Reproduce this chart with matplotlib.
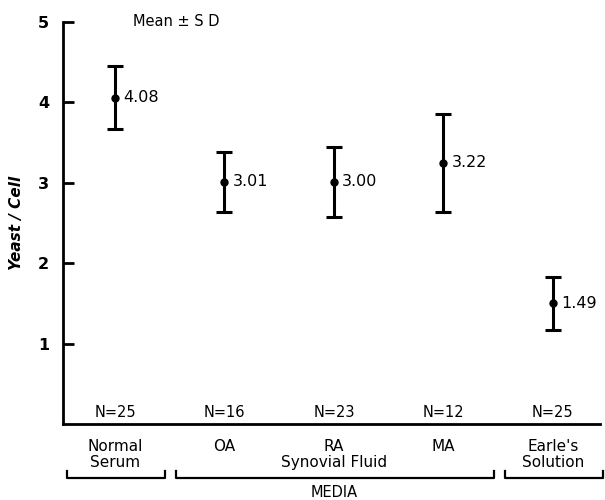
import matplotlib
matplotlib.use('Agg')
import matplotlib.pyplot as plt
import matplotlib.transforms as mtransforms

# Data
media = ['Normal\nSerum', 'OA', 'RA', 'MA', "Earle's\nSolution"]
means = [4.08, 3.01, 3.00, 3.22, 1.49]
plot_means = [4.06, 3.01, 3.01, 3.25, 1.50]
sd = [0.39, 0.37, 0.43, 0.61, 0.33]
n_counts = [25, 16, 23, 12, 25]
groups = [('', 0, 0), ('Synovial Fluid', 1, 3), ('', 4, 4)]

plt.rcParams['font.family'] = ['DejaVu Sans']

fig = plt.figure(figsize=(6.05, 5.0), dpi=100)
ax = fig.add_axes([63 / 605, 1 - 424 / 500, 537 / 605, 402 / 500])

xs = list(range(len(media)))
ax.errorbar(xs, plot_means, yerr=sd, fmt='o', color='black', ms=5,
            elinewidth=2.2, capsize=6, capthick=2.2)

# Value labels next to each mean
for x, y, m in zip(xs, plot_means, means):
    ax.annotate(f'{m:.2f}', (x, y), xytext=(6, 0), textcoords='offset points',
                va='center', ha='left', fontsize=11.5)

ax.set_xlim(-0.475, 4.43)
ax.set_ylim(0, 5)
ax.set_yticks([1, 2, 3, 4, 5])
ax.tick_params(axis='y', direction='in', length=8, width=2, labelsize=11.5, pad=10)
for lbl in ax.get_yticklabels():
    lbl.set_fontweight('bold')
ax.set_xticks([])
for side in ['top', 'right']:
    ax.spines[side].set_visible(False)
ax.spines['left'].set_linewidth(2)
ax.spines['bottom'].set_linewidth(2)

ax.set_ylabel('Yeast / Cell', fontsize=11, fontstyle='italic', fontweight='bold',
              labelpad=10)

ax.text(0.13, 1.0, 'Mean ± S D', transform=ax.transAxes, fontsize=10.5,
        va='center', ha='left')

trans = mtransforms.blended_transform_factory(ax.transData, ax.transAxes)

# N counts just above the axis
for x, n in zip(xs, n_counts):
    ax.text(x, 0.028, f'N={n}', transform=trans, ha='center', va='center',
            fontsize=10.5)

# Category labels under the axis
for x, name in zip(xs, media):
    lines = name.split('\n')
    ax.text(x, -0.055, lines[0], transform=trans, ha='center', va='center',
            fontsize=11)
    if len(lines) > 1:
        ax.text(x, -0.097, lines[1], transform=trans, ha='center', va='center',
                fontsize=11)

# Brackets grouping the media
y_br = -0.134
y_end = -0.117
for label, a, b in groups:
    x0 = a - 0.44
    x1 = b + 0.46
    ax.plot([x0, x0, x1, x1], [y_end, y_br, y_br, y_end], color='black',
            lw=1.6, transform=trans, clip_on=False)
    if label:
        ax.text((a + b) / 2, -0.097, label, transform=trans, ha='center',
                va='center', fontsize=11)

ax.text(2, -0.17, 'MEDIA', transform=trans, ha='center', va='center',
        fontsize=10.5)

fig.savefig('out.png', dpi=100)
